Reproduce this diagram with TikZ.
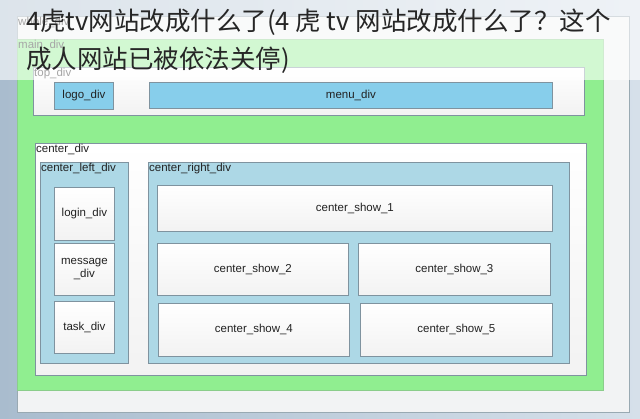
\documentclass[tikz,border=0pt]{standalone}
\usepackage{fontspec}
\setmainfont{Liberation Sans}
\newfontfamily\cjk{Noto Sans CJK SC}
\definecolor{bgL}{HTML}{A9BCCE}
\definecolor{bgR}{HTML}{D6E0EA}
\definecolor{wholefill}{HTML}{F2F3F4}
\definecolor{greenfill}{HTML}{90EE90}
\definecolor{skyfill}{HTML}{87CEEB}
\definecolor{lbfill}{HTML}{ADD8E6}
\definecolor{edge}{HTML}{7F939F}
\definecolor{txt}{HTML}{222222}
\tikzset{
  box/.style={draw=edge, line width=0.8pt, anchor=north west, inner sep=0pt, text=txt, font=\fontsize{11.5}{13}\selectfont},
  whitebox/.style={box, top color=white, bottom color=white!90!gray},
  greenbox/.style={box, fill=greenfill, draw=greenfill!70!gray},
  skybox/.style={box, fill=skyfill, draw=edge},
  lbbox/.style={box, fill=lbfill, draw=edge},
  tag/.style={anchor=north west, inner sep=1pt, text=txt, font=\fontsize{11.5}{13}\selectfont},
  titletext/.style={anchor=north west, inner sep=0pt, text=black!85, align=left, font=\cjk\fontsize{25.5}{38}\selectfont}
}
\newcommand{\bx}[7]{\node[#6, minimum width=#4pt-#2pt, minimum height=#5pt-#3pt] (#1) at (#2,#3) {#7};}
\begin{document}
\begin{tikzpicture}[x=1pt,y=-1pt]
\useasboundingbox (0,0) rectangle (640,419);
\shade[left color=bgL, right color=bgR] (0,0) rectangle (640,419);
\bx{whole}{17}{16}{629}{412}{box, fill=wholefill, draw=edge!80}{}
\bx{main}{17}{39}{603}{390}{greenbox}{}
\bx{top}{33}{67}{584}{115}{whitebox}{}
\bx{logo}{54}{82}{113}{109}{skybox}{logo\_div}
\bx{menu}{149}{82}{552}{108}{skybox}{menu\_div}
\bx{center}{35}{143}{586}{375}{whitebox}{}
\bx{cleft}{40}{162}{128}{363}{lbbox}{}
\bx{login}{54}{187}{114}{240}{whitebox}{login\_div}
\bx{message}{54}{243}{114}{295}{whitebox, align=center}{message\\\_div}
\bx{task}{54}{301}{114}{353}{whitebox}{task\_div}
\bx{cright}{148}{162}{569}{363}{lbbox}{}
\bx{show1}{157}{185}{552}{231}{whitebox}{center\_show\_1}
\bx{show2}{157}{243}{348}{295}{whitebox}{center\_show\_2}
\bx{show3}{358}{243}{550}{295}{whitebox}{center\_show\_3}
\bx{show4}{158}{303}{349}{356}{whitebox}{center\_show\_4}
\bx{show5}{360}{303}{552}{356}{whitebox}{center\_show\_5}
\node[tag] (wholelbl) at (whole.north west) {whole\_div};
\node[tag] (mainlbl) at (main.north west) {main\_div};
\node[tag] (toplbl) at (top.north west) {top\_div};
\node[tag] (centerlbl) at (center.north west) {center\_div};
\node[tag] (cleftlbl) at (cleft.north west) {center\_left\_div};
\node[tag] (crightlbl) at (cright.north west) {center\_right\_div};
\fill[white, opacity=0.6] (0,0) rectangle (640,80);
\node[titletext] (title) at (26,9) {4虎tv网站改成什么了(4 虎 tv 网站改成什么了？这个\\成人网站已被依法关停)};
\end{tikzpicture}
\end{document}
